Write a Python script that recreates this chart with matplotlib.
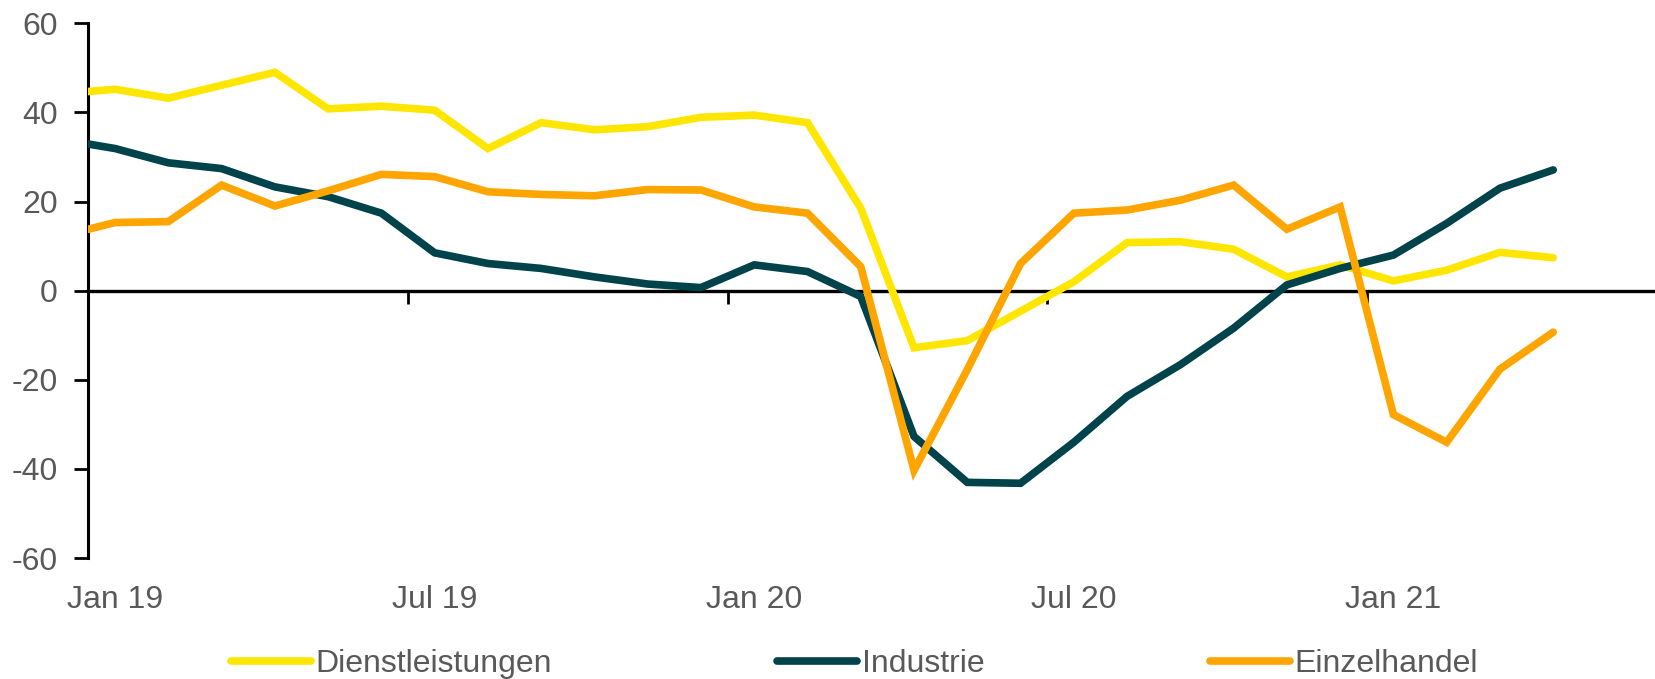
import matplotlib
matplotlib.use("Agg")
import matplotlib.pyplot as plt
import numpy as np
from matplotlib.transforms import blended_transform_factory

plt.rcParams['font.family'] = ['Liberation Sans', 'DejaVu Sans']
plt.rcParams['axes.unicode_minus'] = False

# Months: Dec 18 (partly outside axis) .. Apr 21
months = ["Dez 18",
          "Jan 19", "Feb 19", "Mär 19", "Apr 19", "Mai 19", "Jun 19", "Jul 19", "Aug 19",
          "Sep 19", "Okt 19", "Nov 19", "Dez 19",
          "Jan 20", "Feb 20", "Mär 20", "Apr 20", "Mai 20", "Jun 20", "Jul 20", "Aug 20",
          "Sep 20", "Okt 20", "Nov 20", "Dez 20",
          "Jan 21", "Feb 21", "Mär 21", "Apr 21"]

dienstleistungen = [44.2,
                    45.2, 43.2, 46.1, 49.0, 40.8, 41.4, 40.5, 31.9, 37.7, 36.1, 36.8, 38.9,
                    39.4, 37.7, 18.5, -12.8, -11.2, -4.6, 2.0, 10.8, 11.0, 9.3, 3.1, 5.8,
                    2.2, 4.6, 8.6, 7.4]
industrie = [33.9,
             31.9, 28.7, 27.4, 23.3, 21.1, 17.4, 8.5, 6.1, 5.0, 3.1, 1.5, 0.7,
             5.8, 4.3, -1.3, -32.7, -43.0, -43.2, -34.0, -23.7, -16.6, -8.4, 1.3, 5.0,
             8.0, 15.1, 23.0, 27.1]
einzelhandel = [12.3,
                15.3, 15.5, 23.7, 19.0, 22.4, 26.1, 25.6, 22.2, 21.6, 21.3, 22.7, 22.6,
                18.8, 17.4, 5.4, -40.3, -17.7, 6.1, 17.4, 18.1, 20.3, 23.7, 13.8, 18.8,
                -27.8, -34.0, -17.6, -9.3]

series_names = ["Dienstleistungen", "Industrie", "Einzelhandel"]
colors = ["#FFE600", "#00434A", "#FFA500"]

tick_labels = ["Jan 19", "Jul 19", "Jan 20", "Jul 20", "Jan 21"]
yticks = [-60, -40, -20, 0, 20, 40, 60]

# position: month index, Jan 19 starts at 0, points at mid-month
x = np.arange(len(months)) - 1 + 0.5

fig = plt.figure(figsize=(16.56, 6.79), dpi=100)
ax = fig.add_axes([0.0534, 0.178, 0.9466, 0.7877])

text_color = "#595959"
for vals, name, c in zip([dienstleistungen, industrie, einzelhandel], series_names, colors):
    ax.plot(x, vals, color=c, lw=5.5, label=name, solid_joinstyle='miter',
            solid_capstyle='round', zorder=3)

ax.set_xlim(0, 29.43)
ax.set_ylim(-60, 60)

for s in ['top', 'right']:
    ax.spines[s].set_visible(False)
ax.spines['left'].set_linewidth(2.2)
ax.spines['bottom'].set_position(('data', 0))
ax.spines['bottom'].set_linewidth(2.4)
ax.spines['bottom'].set_zorder(2)

ax.set_yticks(yticks)
ax.set_yticklabels([str(v) for v in yticks])
ax.tick_params(axis='y', direction='out', length=10, width=2, pad=12,
               labelsize=23, labelcolor=text_color)

tick_pos = [0, 6, 12, 18, 24]
ax.set_xticks(tick_pos)
ax.set_xticklabels([])
ax.tick_params(axis='x', direction='out', length=9, width=2)

trans = blended_transform_factory(ax.transData, ax.transAxes)
for p, lab in zip(tick_pos, tick_labels):
    ax.text(p + 0.5, -0.05, lab, transform=trans, ha='center', va='top',
            fontsize=23, color=text_color)

leg = fig.legend(loc='center', bbox_to_anchor=(0.5160, 0.022), ncol=3, frameon=False,
                 fontsize=23, handlelength=2.5, handletextpad=0.15, columnspacing=7.05,
                 labelcolor=text_color)
for line in leg.get_lines():
    line.set_linewidth(5.5)
    line.set_solid_capstyle('round')

fig.savefig("out.png", dpi=100)
